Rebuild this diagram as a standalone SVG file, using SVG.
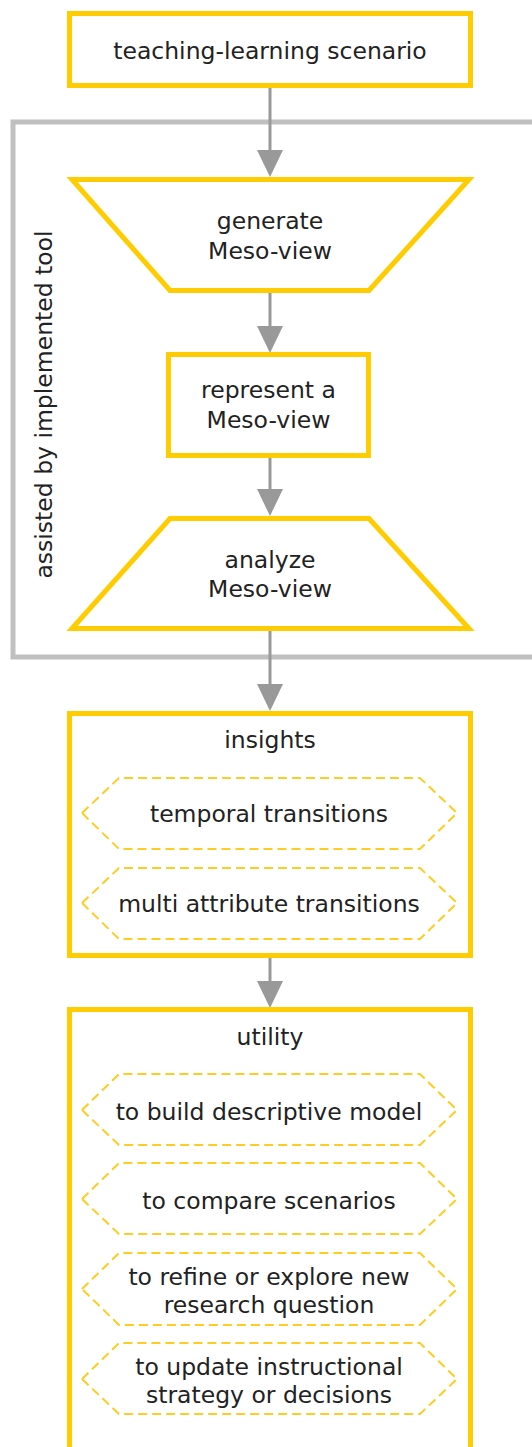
<svg xmlns="http://www.w3.org/2000/svg" width="532" height="1447" viewBox="0 0 532 1447">
  <style>
    .box { fill: #ffffff; stroke: #ffcc00; stroke-width: 5; }
    .hex { fill: #ffffff; stroke: #ffcc22; stroke-width: 2; stroke-dasharray: 9 5; }
    .lbl { font-family: "DejaVu Sans", sans-serif; font-size: 23.5px; fill: #222222; text-anchor: middle; }
    .conn { stroke: #999999; stroke-width: 3; fill: none; }
    .group { fill: none; stroke: #c0c0c0; stroke-width: 5; }
  </style>
  <defs>
    <marker id="ah" markerUnits="userSpaceOnUse" markerWidth="28" markerHeight="28" refX="0" refY="13" orient="auto">
      <path d="M0,0 L27,13 L0,26 Z" fill="#999999"/>
    </marker>
  </defs>
  <rect width="532" height="1447" fill="#ffffff"/>

  <g id="tool-group">
    <rect class="group" x="13" y="122" width="540" height="535"/>
    <text class="lbl" transform="translate(51.5,404.5) rotate(-90)">assisted by implemented tool</text>
  </g>

  <g id="connectors">
    <line class="conn" x1="270" y1="88" x2="270" y2="150" marker-end="url(#ah)"/>
    <line class="conn" x1="270" y1="293" x2="270" y2="326" marker-end="url(#ah)"/>
    <line class="conn" x1="270" y1="458" x2="270" y2="489" marker-end="url(#ah)"/>
    <line class="conn" x1="270" y1="631" x2="270" y2="684" marker-end="url(#ah)"/>
    <line class="conn" x1="270" y1="958" x2="270" y2="981" marker-end="url(#ah)"/>
  </g>

  <g id="scenario">
    <rect class="box" x="69.5" y="13.5" width="401" height="72"/>
    <text class="lbl" x="270" y="59">teaching-learning scenario</text>
  </g>

  <g id="generate">
    <polygon class="box" points="72,179.5 469,179.5 369,290.5 170,290.5"/>
    <text class="lbl" x="270" y="229">generate</text>
    <text class="lbl" x="270" y="259">Meso-view</text>
  </g>

  <g id="represent">
    <rect class="box" x="168.5" y="354.5" width="200" height="101"/>
    <text class="lbl" x="268.5" y="398">represent a</text>
    <text class="lbl" x="268.5" y="428">Meso-view</text>
  </g>

  <g id="analyze">
    <polygon class="box" points="170,518.5 369,518.5 469,628.5 72,628.5"/>
    <text class="lbl" x="270" y="568">analyze</text>
    <text class="lbl" x="270" y="597">Meso-view</text>
  </g>

  <g id="insights">
    <rect class="box" x="69.5" y="713.5" width="401" height="242"/>
    <text class="lbl" x="270" y="748">insights</text>
  </g>
  <g id="temporal">
    <polygon class="hex" points="82,813 119,778 420,778 457,813 420,849 119,849"/>
    <text class="lbl" x="269" y="822">temporal transitions</text>
  </g>
  <g id="multi">
    <polygon class="hex" points="82,903 119,868 420,868 457,903 420,939 119,939"/>
    <text class="lbl" x="269" y="912">multi attribute transitions</text>
  </g>

  <g id="utility">
    <rect class="box" x="69.5" y="1009.5" width="401" height="460"/>
    <text class="lbl" x="270" y="1045">utility</text>
  </g>
  <g id="build">
    <polygon class="hex" points="82,1110 119,1074 420,1074 457,1110 420,1145 119,1145"/>
    <text class="lbl" x="269" y="1120">to build descriptive model</text>
  </g>
  <g id="compare">
    <polygon class="hex" points="82,1199 119,1163 420,1163 457,1199 420,1234 119,1234"/>
    <text class="lbl" x="269" y="1209">to compare scenarios</text>
  </g>
  <g id="refine">
    <polygon class="hex" points="82,1289 119,1253 420,1253 457,1289 420,1325 119,1325"/>
    <text class="lbl" x="269" y="1285">to refine or explore new</text>
    <text class="lbl" x="269" y="1313">research question</text>
  </g>
  <g id="update">
    <polygon class="hex" points="82,1379 119,1343 420,1343 457,1379 420,1414 119,1414"/>
    <text class="lbl" x="269" y="1375">to update instructional</text>
    <text class="lbl" x="269" y="1403">strategy or decisions</text>
  </g>
</svg>
